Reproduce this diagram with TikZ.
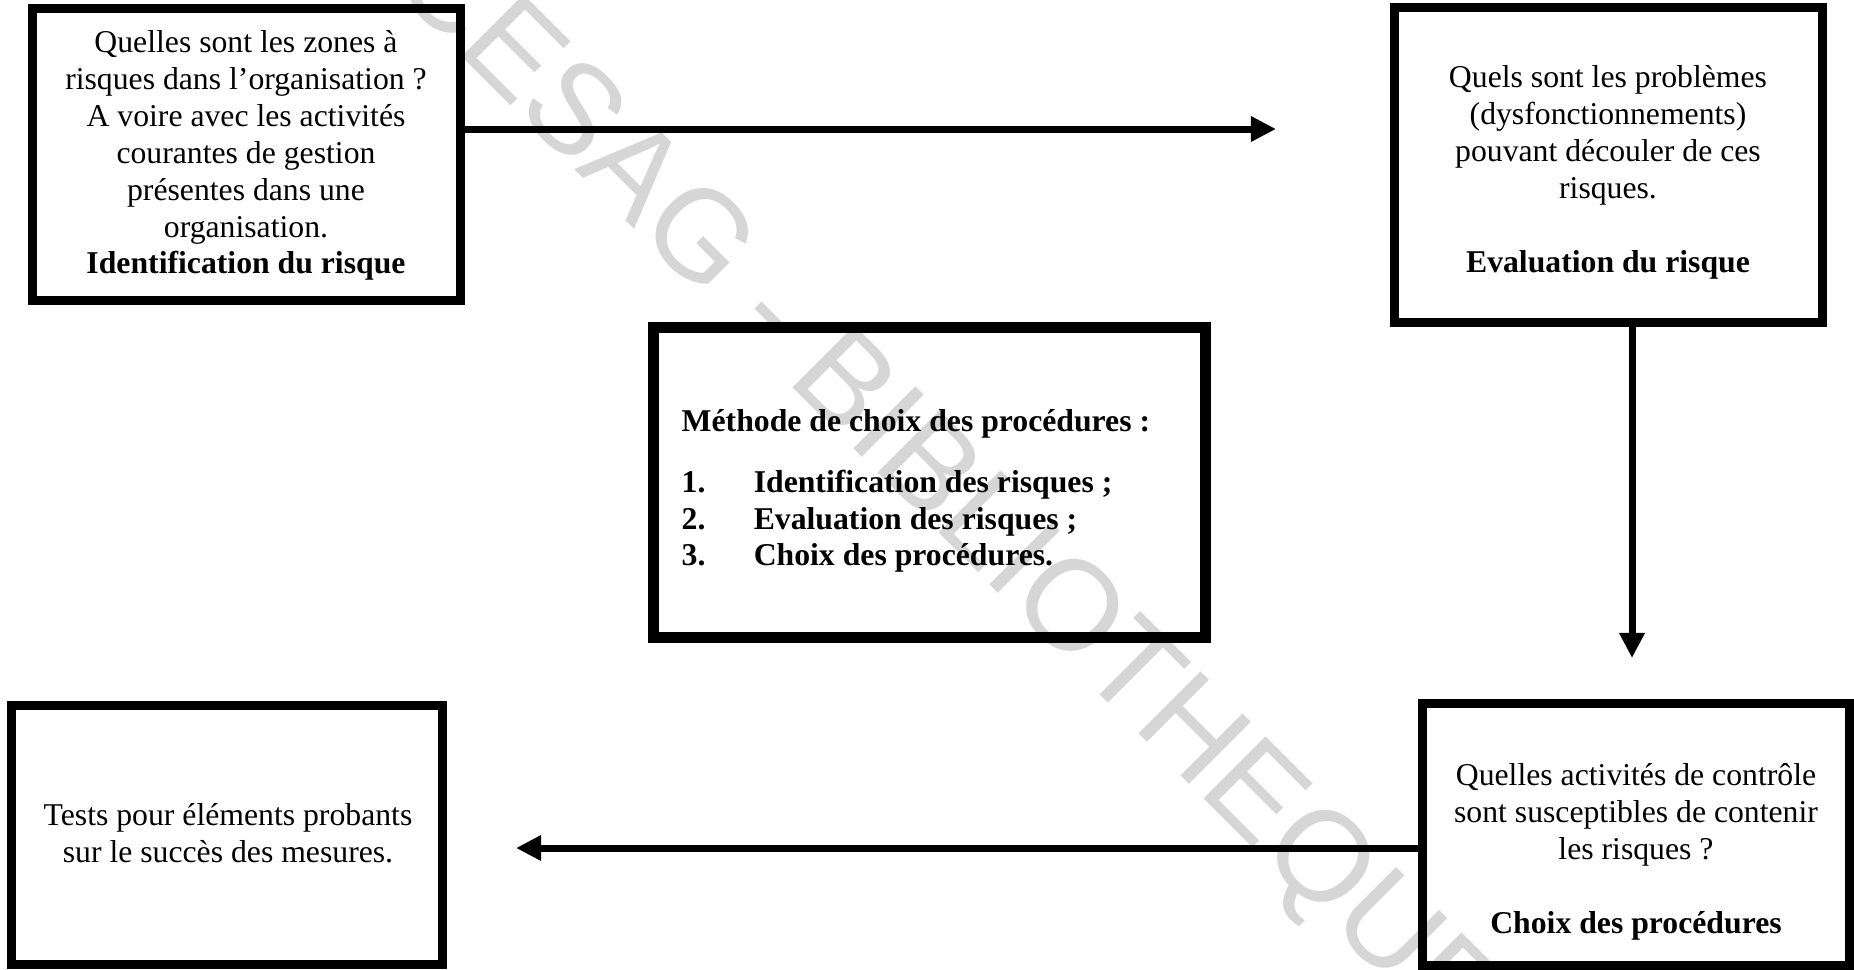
\documentclass[tikz,border=0pt]{standalone}
\usepackage{fontspec}
\setmainfont{Liberation Serif}
\newfontfamily\wmfont{Liberation Sans}
\usetikzlibrary{arrows.meta}
\begin{document}
\begin{tikzpicture}[x=0.01cm,y=-0.01cm,
  box/.style={draw=black,line width=0.09cm,inner sep=0pt},
  thickbox/.style={box,line width=0.11cm},
  txt/.style={align=center,font=\fontsize{9.02}{10.5}\selectfont,inner sep=0pt,text=black},
  arr/.style={draw=black,line width=0.07cm,-{Triangle[length=0.25cm,width=0.24cm]}},
  wm/.style={text=black!16,font=\wmfont\fontsize{36.3}{40}\selectfont,rotate=-45,inner sep=0pt}
]
\useasboundingbox (0,0) rectangle (1854,969);
\fill[white] (0,0) rectangle (1854,969);
\clip (0,0) rectangle (1854,969);

% watermark
\node[wm] (wm) at (944,493) {CESAG - BIBLIOTHEQUE};

% boxes
\node[box,minimum width=4.28cm,minimum height=2.92cm] (b1) at (246.5,154.5) {};
\node[box,minimum width=4.28cm,minimum height=3.15cm] (b2) at (1608.5,165) {};
\node[thickbox,minimum width=5.52cm,minimum height=3.10cm] (b3) at (929.5,482.5) {};
\node[box,minimum width=4.305cm,minimum height=2.58cm] (b4) at (226.75,835) {};
\node[box,minimum width=4.275cm,minimum height=2.61cm] (b5) at (1636,834.5) {};

% texts
\node[txt] (t1) at (246,155.5) {Quelles sont les zones à\\risques dans l’organisation ?\\A voire avec les activités\\courantes de gestion\\présentes dans une\\organisation.\\\textbf{Identification du risque}};
\node[txt] (t2) at (1608,172.5) {Quels sont les problèmes\\(dysfonctionnements)\\pouvant découler de ces\\risques.\\[10.5pt]\textbf{Evaluation du risque}};
\node[txt,align=left,anchor=west,font=\fontsize{9.02}{10.5}\selectfont\bfseries] (t3) at (681,491) {Méthode de choix des procédures :\\[6.8pt]\makebox[20.5pt][l]{1.}Identification des risques ;\\\makebox[20.5pt][l]{2.}Evaluation des risques ;\\\makebox[20.5pt][l]{3.}Choix des procédures.};
\node[txt] (t4) at (228,833) {Tests pour éléments probants\\sur le succès des mesures.};
\node[txt] (t5) at (1636,851.5) {Quelles activités de contrôle\\sont susceptibles de contenir\\les risques ?\\[10.5pt]\textbf{Choix des procédures}};

% arrow end points
\coordinate (c1) at (1276,129);
\coordinate (c2) at (1632,658);
\coordinate (c3) at (516,848);

\draw[arr] (b1.east |- c1) -- (c1);
\draw[arr] (c2 |- b2.south) -- (c2);
\draw[arr] (b5.west |- c3) -- (c3);
\end{tikzpicture}
\end{document}
